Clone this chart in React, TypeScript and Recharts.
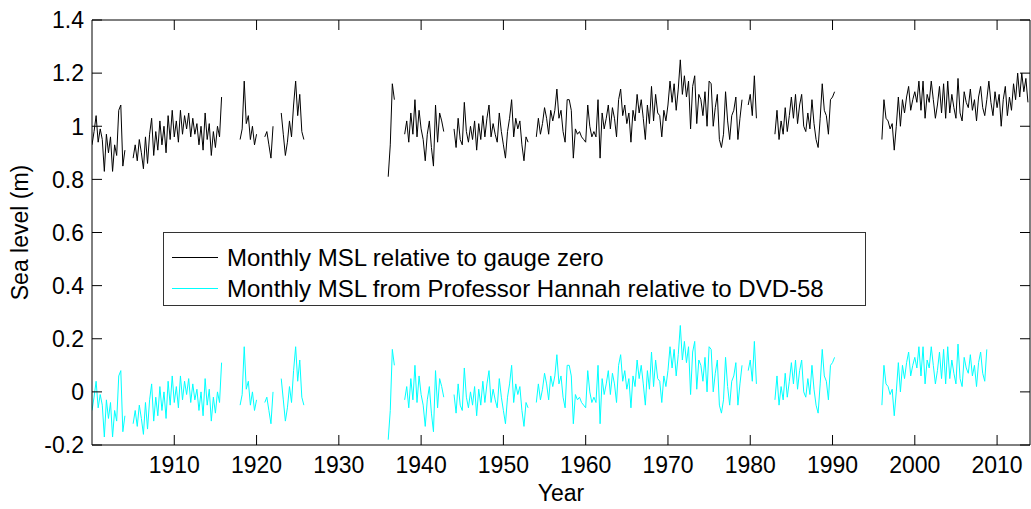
import { Legend, Line, LineChart, XAxis, YAxis } from 'recharts';

const FONT = 'Arial, "Liberation Sans", Helvetica, sans-serif';
const GAUGE_COLOR = '#000000';
const HANNAH_COLOR = '#00ffff';
const TICK_LEN = 10;

const X_TICKS = [1910, 1920, 1930, 1940, 1950, 1960, 1970, 1980, 1990, 2000, 2010];
const Y_TICKS = [-0.2, 0, 0.2, 0.4, 0.6, 0.8, 1, 1.2, 1.4];
const SERIES_ORDER = ['gauge', 'hannah'];

// quarterly readings (years), each segment starts at the year below
const STEP = 0.25;
const SEGMENT_STARTS = [1900, 1905, 1918, 1921, 1923, 1936, 1938, 1944, 1954, 1979.75, 1983, 1996];

// relative to gauge zero (m)
const gauge1900 = [0.93, 0.98, 1.04, 0.94, 0.99, 0.95, 0.83, 0.97, 0.9, 0.96, 0.83, 0.93, 0.89, 1.06, 1.08, 0.85, 0.91];
const gauge1905 = [
  0.88, 0.93, 0.87, 0.95, 0.9, 0.84, 0.96, 0.86, 0.97, 1.03, 0.89, 0.98, 0.91, 1.02, 0.93, 1.0, 0.9, 1.04, 0.95, 1.06,
  0.96, 1.02, 0.94, 1.06, 0.97, 1.04, 0.99, 1.05, 0.96, 1.03, 0.97, 1.01, 0.93, 1.0, 0.91, 1.05, 0.95, 1.01, 0.89, 0.98,
  0.92, 1.0, 0.96, 1.11,
];
const gauge1918 = [0.95, 0.99, 1.17, 1.01, 1.04, 0.95, 1.0, 0.93, 0.97];
const gauge1921 = [0.96, 0.98, 0.93, 0.88, 1.0];
const gauge1923 = [1.05, 0.97, 0.89, 0.94, 1.02, 0.96, 1.08, 1.17, 1.04, 1.12, 0.98, 0.95];
const gauge1936 = [0.81, 0.93, 1.16, 1.1];
const gauge1938 = [0.97, 1.02, 0.94, 1.05, 0.97, 1.1, 0.96, 1.06, 0.99, 0.95, 0.87, 0.97, 1.02, 0.92, 0.85, 1.08, 0.94, 1.05, 1.02, 0.98];
const gauge1944 = [
  0.99, 0.92, 1.03, 0.95, 0.93, 1.09, 0.98, 0.94, 1.0, 0.95, 1.02, 0.91, 1.01, 0.95, 1.04, 0.96, 1.03, 1.08, 0.96, 1.01,
  0.97, 0.94, 1.05, 0.98, 0.93, 0.88, 0.98, 1.03, 1.1, 0.96, 1.03, 0.99, 1.02, 0.93, 0.87, 0.96, 0.94,
];
const gauge1954 = [
  0.96, 1.03, 0.97, 1.01, 1.07, 1.03, 0.97, 1.06, 1.02, 1.06, 1.14, 1.03, 1.06, 0.98, 0.94, 1.1, 1.1, 1.06, 0.88, 0.99,
  0.97, 0.98, 0.96, 0.95, 0.94, 1.08, 1.0, 0.96, 0.98, 0.96, 1.1, 0.88, 1.05, 0.99, 1.03, 1.08, 0.99, 1.07, 1.03, 0.96,
  1.1, 1.14, 1.04, 1.08, 1.01, 1.05, 0.94, 1.06, 1.02, 1.12, 1.05, 1.1, 1.03, 0.95, 1.08, 1.01, 1.15, 1.02, 1.12, 1.05,
  1.04, 0.96, 1.06, 1.02, 1.08, 1.17, 1.09, 1.16, 1.06, 1.14, 1.25, 1.12, 1.19, 1.11, 1.17, 0.99, 1.15, 1.19, 1.01, 1.12,
  1.1, 1.04, 1.13, 1.0, 1.17, 1.16, 1.0, 1.07, 1.12, 0.95, 0.92, 0.97, 1.13, 1.02, 0.95, 1.04, 1.06, 1.11, 0.95, 1.03,
  1.1,
];
const gauge1979 = [1.08, 1.12, 1.04, 1.19, 1.03];
const gauge1983 = [
  0.97, 1.06, 0.95, 1.02, 0.97, 1.07, 0.98, 1.04, 1.11, 1.03, 1.12, 1.01, 1.08, 1.12, 1.0, 0.98, 1.05, 0.99, 1.1, 1.01,
  0.95, 0.92, 1.03, 1.16, 1.06, 1.04, 0.97, 1.1, 1.11, 1.13,
];
const gauge1996 = [
  0.95, 1.1, 1.03, 1.02, 0.99, 1.01, 0.91, 1.0, 1.11, 1.0, 1.1, 1.05, 1.11, 1.15, 1.06, 1.1, 1.13, 1.09, 1.17, 1.06,
  1.17, 1.03, 1.12, 1.09, 1.17, 1.1, 1.03, 1.08, 1.15, 1.05, 1.16, 1.03, 1.17, 1.05, 1.12, 1.07, 1.03, 1.18, 1.05, 1.02,
  1.13, 1.09, 1.07, 1.14, 1.06, 1.1, 1.02, 1.11, 1.15, 1.07, 1.04, 1.1, 1.17, 1.09, 1.04, 1.13, 1.07, 1.12, 1.0, 1.1,
  1.15, 1.04, 1.11, 1.06, 1.16, 1.1, 1.2, 1.11, 1.2, 1.13, 1.18, 1.09,
];

// Professor Hannah, relative to DVD-58 (m)
const hannah1900 = [-0.07, -0.02, 0.04, -0.06, -0.01, -0.05, -0.17, -0.03, -0.1, -0.04, -0.17, -0.07, -0.11, 0.06, 0.08, -0.15, -0.09];
const hannah1905 = [
  -0.12, -0.07, -0.13, -0.05, -0.1, -0.16, -0.04, -0.14, -0.03, 0.03, -0.11, -0.02, -0.09, 0.02, -0.07, 0.0, -0.1, 0.04,
  -0.05, 0.06, -0.04, 0.02, -0.06, 0.06, -0.03, 0.04, -0.01, 0.05, -0.04, 0.03, -0.03, 0.01, -0.07, 0.0, -0.09, 0.05,
  -0.05, 0.01, -0.11, -0.02, -0.08, 0.0, -0.04, 0.11,
];
const hannah1918 = [-0.05, -0.01, 0.17, 0.01, 0.04, -0.05, 0.0, -0.07, -0.03];
const hannah1921 = [-0.04, -0.02, -0.07, -0.12, 0.0];
const hannah1923 = [0.05, -0.03, -0.11, -0.06, 0.02, -0.04, 0.08, 0.17, 0.04, 0.12, -0.02, -0.05];
const hannah1936 = [-0.18, -0.07, 0.16, 0.1];
const hannah1938 = [-0.03, 0.02, -0.06, 0.05, -0.03, 0.1, -0.04, 0.06, -0.01, -0.05, -0.13, -0.03, 0.02, -0.08, -0.15, 0.08, -0.06, 0.05, 0.02, -0.02];
const hannah1944 = [
  -0.01, -0.08, 0.03, -0.05, -0.07, 0.09, -0.02, -0.06, 0.0, -0.05, 0.02, -0.09, 0.01, -0.05, 0.04, -0.04, 0.03, 0.08,
  -0.04, 0.01, -0.03, -0.06, 0.05, -0.02, -0.07, -0.12, -0.02, 0.03, 0.1, -0.04, 0.03, -0.01, 0.02, -0.07, -0.13, -0.04,
  -0.06,
];
const hannah1954 = [
  -0.04, 0.03, -0.03, 0.01, 0.07, 0.03, -0.03, 0.06, 0.02, 0.06, 0.14, 0.03, 0.06, -0.02, -0.06, 0.1, 0.1, 0.06, -0.12,
  -0.01, -0.03, -0.02, -0.04, -0.05, -0.06, 0.08, 0.0, -0.04, -0.02, -0.04, 0.1, -0.12, 0.05, -0.01, 0.03, 0.08, -0.01,
  0.07, 0.03, -0.04, 0.1, 0.14, 0.04, 0.08, 0.01, 0.05, -0.06, 0.06, 0.02, 0.12, 0.05, 0.1, 0.03, -0.05, 0.08, 0.01,
  0.15, 0.02, 0.12, 0.05, 0.04, -0.04, 0.06, 0.02, 0.08, 0.17, 0.09, 0.16, 0.06, 0.14, 0.25, 0.12, 0.19, 0.11, 0.17,
  -0.01, 0.15, 0.19, 0.01, 0.12, 0.1, 0.04, 0.13, 0.0, 0.17, 0.16, 0.0, 0.07, 0.12, -0.05, -0.08, -0.03, 0.13, 0.02,
  -0.05, 0.04, 0.06, 0.11, -0.05, 0.03, 0.1,
];
const hannah1979 = [0.08, 0.12, 0.04, 0.19, 0.03];
const hannah1983 = [
  -0.03, 0.06, -0.05, 0.02, -0.03, 0.07, -0.02, 0.04, 0.11, 0.03, 0.12, 0.01, 0.08, 0.12, 0.0, -0.02, 0.05, -0.01, 0.1,
  0.01, -0.05, -0.08, 0.03, 0.16, 0.06, 0.04, -0.03, 0.1, 0.11, 0.13,
];
const hannah1996 = [
  -0.05, 0.1, 0.03, 0.02, -0.01, 0.01, -0.09, 0.0, 0.11, 0.0, 0.1, 0.05, 0.11, 0.15, 0.06, 0.1, 0.13, 0.09, 0.17, 0.06,
  0.17, 0.03, 0.12, 0.09, 0.17, 0.1, 0.03, 0.08, 0.15, 0.05, 0.16, 0.03, 0.17, 0.05, 0.12, 0.07, 0.03, 0.18, 0.05, 0.02,
  0.13, 0.09, 0.07, 0.14, 0.06, 0.1, 0.02, 0.11, 0.15, 0.07, 0.04, 0.16,
];

const GAUGE = [gauge1900, gauge1905, gauge1918, gauge1921, gauge1923, gauge1936, gauge1938, gauge1944, gauge1954, gauge1979, gauge1983, gauge1996];
const HANNAH = [hannah1900, hannah1905, hannah1918, hannah1921, hannah1923, hannah1936, hannah1938, hannah1944, hannah1954, hannah1979, hannah1983, hannah1996];

type Row = { year: number; gauge: number | null; hannah: number | null };

const rows: Row[] = [];
SEGMENT_STARTS.forEach((start, s) => {
  GAUGE[s].forEach((g, i) => {
    rows.push({ year: start + i * STEP, gauge: g, hannah: HANNAH[s][i] ?? null });
  });
  // break the lines between segments
  rows.push({ year: start + GAUGE[s].length * STEP, gauge: null, hannah: null });
});

const fmt = (v: number) => String(Math.round(v * 10) / 10);

function BottomTick({ x, y, payload }: any) {
  return (
    <g>
      <line x1={x} y1={y} x2={x} y2={y - TICK_LEN} stroke="#000" />
      <text x={x} y={y + 28} textAnchor="middle" fontSize={23} fontFamily={FONT} fill="#000">
        {payload.value}
      </text>
    </g>
  );
}

function TopTick({ x, y }: any) {
  return <line x1={x} y1={y} x2={x} y2={y + TICK_LEN} stroke="#000" />;
}

function LeftTick({ x, y, payload }: any) {
  return (
    <g>
      <line x1={x} y1={y} x2={x + TICK_LEN} y2={y} stroke="#000" />
      <text x={x - 8} y={y} dy="0.36em" textAnchor="end" fontSize={23} fontFamily={FONT} fill="#000">
        {fmt(payload.value)}
      </text>
    </g>
  );
}

function RightTick({ x, y }: any) {
  return <line x1={x} y1={y} x2={x - TICK_LEN} y2={y} stroke="#000" />;
}

function LegendBox({ payload }: any) {
  const items = [...(payload || [])].sort(
    (a: any, b: any) => SERIES_ORDER.indexOf(a.dataKey) - SERIES_ORDER.indexOf(b.dataKey),
  );
  return (
    <div
      style={{
        border: '1px solid #333',
        background: '#fff',
        boxSizing: 'border-box',
        width: 703,
        height: 74,
        padding: '9px 0 0 8px',
        fontFamily: FONT,
        fontSize: 24,
        color: '#000',
      }}
    >
      {items.map((entry: any) => (
        <div key={entry.value} style={{ display: 'flex', alignItems: 'center', height: 31 }}>
          <div style={{ width: 46, borderTop: `1px solid ${entry.color}`, marginRight: 9 }} />
          <span style={{ whiteSpace: 'nowrap', lineHeight: '31px' }}>{entry.value}</span>
        </div>
      ))}
    </div>
  );
}

export default function App() {
  return (
    <div style={{ position: 'absolute', left: 0, top: 0, width: 1031, height: 509, background: '#fff' }}>
      <LineChart
        width={1031}
        height={509}
        data={rows}
        margin={{ top: 19, right: 0, bottom: 0, left: 0 }}
        style={{ fontFamily: FONT }}
      >
        <XAxis
          xAxisId="bottom"
          dataKey="year"
          type="number"
          domain={[1900, 2014]}
          ticks={X_TICKS}
          allowDataOverflow
          height={64}
          tickSize={0}
          tickMargin={0}
          tickLine={false}
          tick={<BottomTick />}
          axisLine={{ stroke: '#000' }}
          label={{
            content: ({ viewBox }: any) => (
              <text
                x={viewBox.x + viewBox.width / 2}
                y={viewBox.y + 56}
                textAnchor="middle"
                fontSize={23}
                fontFamily={FONT}
                fill="#000"
              >
                Year
              </text>
            ),
          }}
        />
        <XAxis
          xAxisId="top"
          orientation="top"
          dataKey="year"
          type="number"
          domain={[1900, 2014]}
          ticks={X_TICKS}
          allowDataOverflow
          height={1}
          tickSize={0}
          tickMargin={0}
          tickLine={false}
          tick={<TopTick />}
          axisLine={{ stroke: '#000' }}
        />
        <YAxis
          yAxisId="left"
          type="number"
          domain={[-0.2, 1.4]}
          ticks={Y_TICKS}
          allowDataOverflow
          width={92}
          tickSize={0}
          tickMargin={0}
          tickLine={false}
          tick={<LeftTick />}
          axisLine={{ stroke: '#000' }}
          label={{
            content: ({ viewBox }: any) => {
              const cx = viewBox.x + 20;
              const cy = viewBox.y + viewBox.height / 2;
              return (
                <text
                  x={cx}
                  y={cy}
                  dy="0.36em"
                  transform={`rotate(-90 ${cx} ${cy})`}
                  textAnchor="middle"
                  fontSize={23}
                  fontFamily={FONT}
                  fill="#000"
                >
                  Sea level (m)
                </text>
              );
            },
          }}
        />
        <YAxis
          yAxisId="right"
          orientation="right"
          type="number"
          domain={[-0.2, 1.4]}
          ticks={Y_TICKS}
          allowDataOverflow
          width={1}
          tickSize={0}
          tickMargin={0}
          tickLine={false}
          tick={<RightTick />}
          axisLine={{ stroke: '#000' }}
        />
        <Legend
          layout="vertical"
          align="center"
          verticalAlign="middle"
          itemSorter="dataKey"
          content={<LegendBox />}
          wrapperStyle={{ left: 163, top: 232, width: 703 }}
        />
        <Line
          xAxisId="bottom"
          yAxisId="left"
          dataKey="gauge"
          name="Monthly MSL relative to gauge zero"
          type="linear"
          stroke={GAUGE_COLOR}
          strokeWidth={1}
          dot={false}
          connectNulls={false}
          isAnimationActive={false}
        />
        <Line
          xAxisId="bottom"
          yAxisId="left"
          dataKey="hannah"
          name="Monthly MSL from Professor Hannah relative to DVD-58"
          type="linear"
          stroke={HANNAH_COLOR}
          strokeWidth={1}
          dot={false}
          connectNulls={false}
          isAnimationActive={false}
        />
      </LineChart>
    </div>
  );
}
